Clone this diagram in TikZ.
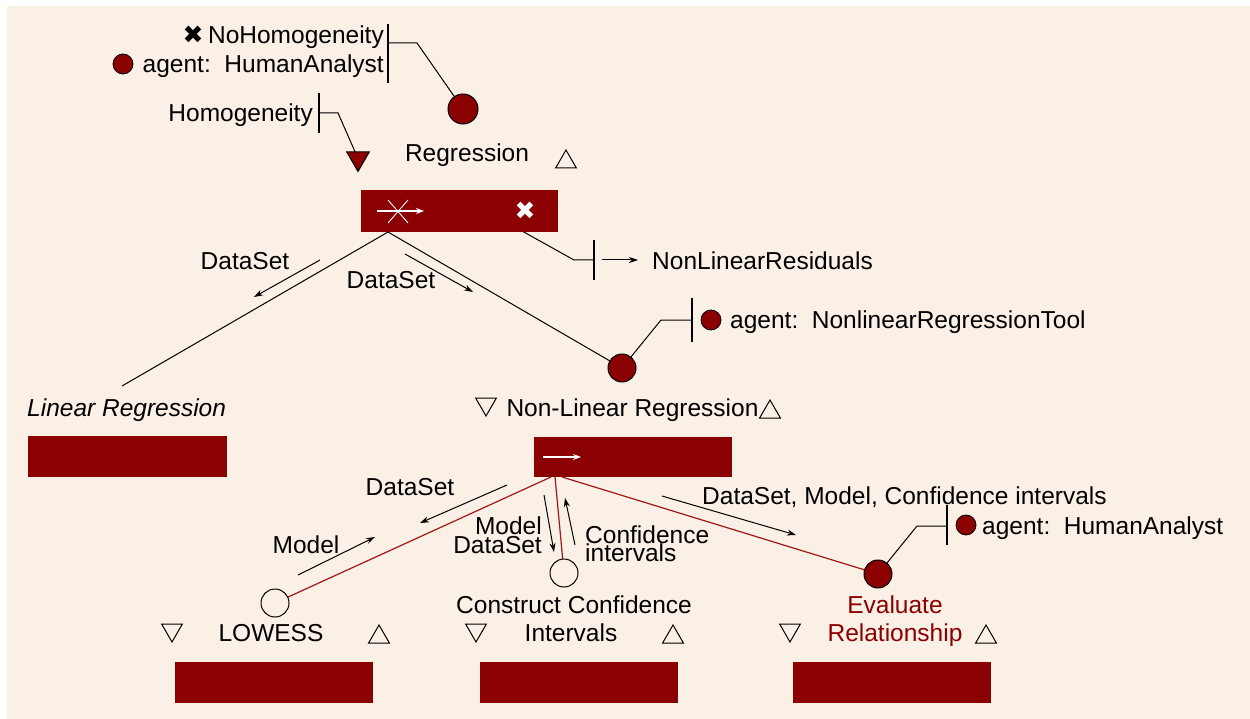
\documentclass[tikz,border=0pt]{standalone}
\usepackage{fontspec}
\setmainfont{Liberation Sans}
\newfontfamily\dejavu{DejaVu Sans}
\usetikzlibrary{arrows.meta,shapes.geometric}
\definecolor{dr}{HTML}{8B0000}
\definecolor{bgc}{HTML}{FAF0E6}
\definecolor{rl}{HTML}{A01818}
\pgfdeclarelayer{back}
\pgfsetlayers{back,main}
\begin{document}
\begin{tikzpicture}[x=1pt,y=-1pt,
  lbl/.style={inner sep=0pt, text height=17pt, text depth=0pt, font=\fontsize{24.5}{27}\selectfont},
  boxx/.style={fill=dr, draw=none, inner sep=0pt, minimum width=198pt, minimum height=41pt},
  bigdot/.style={circle, draw=black, fill=dr, minimum size=28pt, inner sep=0pt, line width=1pt},
  opendot/.style={circle, draw=black, fill=bgc, minimum size=28pt, inner sep=0pt, line width=1pt},
  smalldot/.style={circle, draw=black, fill=dr, minimum size=20pt, inner sep=0pt, line width=0.8pt},
  uptri/.style={regular polygon, regular polygon sides=3, draw=black, line width=1pt, minimum size=24pt, inner sep=0pt},
  downtri/.style={uptri, shape border rotate=180},
  conn/.style={line width=1pt, black},
  rconn/.style={line width=1.2pt, rl},
  flow/.style={line width=1pt, -{Stealth[length=9pt,width=6pt]}},
  barr/.style={line width=1.2pt},
  xmark/.style={font=\dejavu\fontsize{25}{25}\selectfont, inner sep=0pt},
]
\useasboundingbox (0,0) rectangle (1250,719);

% ---------- top: Regression ----------
\node[xmark] (nohx) at (193,35) {✖};
\node[lbl, anchor=east] (noh) at (384,35) {NoHomogeneity};
\node[smalldot] (hadot1) at (123,64) {};
\node[lbl, anchor=east] (ha1) at (384,64) {agent:\ \ HumanAnalyst};
\coordinate (b1t) at (388,24); \coordinate (b1b) at (388,83);
\coordinate (b1m) at (388,43); \coordinate (k1) at (417,43);
\node[bigdot, minimum size=30pt] (regc) at (463,109) {};

\node[lbl, anchor=east] (hom) at (313,113) {Homogeneity};
\coordinate (b2t) at (319,93); \coordinate (b2b) at (319,133);
\coordinate (b2m) at (319,113); \coordinate (k2) at (338,113);
\node[downtri, fill=dr, minimum size=26pt] (homtri) at (358,158.5) {};

\node[lbl] (reglbl) at (467,153) {Regression};
\node[uptri] (regup) at (566,162) {};
\node[boxx, minimum width=197pt, minimum height=42pt] (regbox) at (459.5,211) {};
\coordinate (ra1) at (377,211); \coordinate (ra2) at (424,211);
\coordinate (rx1) at (388,200); \coordinate (rx2) at (408,223);
\coordinate (rx3) at (388,223); \coordinate (rx4) at (408,200);
\draw[white, line width=1.3pt, -{Stealth[length=8pt,width=6pt]}] (ra1) -- (ra2);
\draw[white, line width=0.9pt] (rx1) -- (rx2) (rx3) -- (rx4);
\node[xmark, text=white] (regx) at (525,211) {✖};

\coordinate (r1) at (388,232);
\coordinate (linend) at (122,386);
\coordinate (r2) at (522,231);
\coordinate (k3) at (574,260);
\coordinate (b3t) at (594,240); \coordinate (b3b) at (594,280); \coordinate (b3m) at (594,260);
\coordinate (a3s) at (602,260); \coordinate (a3e) at (638,260);
\node[lbl, anchor=west] (nlres) at (652,261) {NonLinearResiduals};

\node[lbl] (ds1) at (245,261) {DataSet};
\coordinate (f1s) at (320,260); \coordinate (f1e) at (254,297);
\node[lbl] (ds2) at (391,280) {DataSet};
\coordinate (f2s) at (405,254); \coordinate (f2e) at (473,292);

\node[bigdot] (nlrc) at (622,368) {};
\coordinate (k4) at (661,320);
\coordinate (b4t) at (692,298); \coordinate (b4b) at (692,342); \coordinate (b4m) at (692,320);
\node[smalldot] (nrtdot) at (711,320) {};
\node[lbl, anchor=west] (nrt) at (730,320) {agent:\ \ NonlinearRegressionTool};

% ---------- Linear Regression ----------
\node[lbl, anchor=west, font=\fontsize{24.5}{27}\selectfont\itshape] (linlbl) at (27,408) {Linear Regression};
\node[boxx, minimum width=199pt] (linbox) at (127.5,456.5) {};

% ---------- Non-Linear Regression ----------
\node[downtri] (nlrdn) at (486,404) {};
\node[lbl] (nlrlbl) at (632.5,408) {Non-Linear Regression};
\node[uptri] (nlrup) at (770,412) {};
\node[boxx, minimum height=40pt] (nlrbox) at (633,457) {};
\coordinate (na1) at (543,457); \coordinate (na2) at (581,457);
\draw[white, line width=1.3pt, -{Stealth[length=8pt,width=6pt]}] (na1) -- (na2);
\coordinate (n1) at (551,477); \coordinate (n2) at (555,477); \coordinate (n3) at (562,477);

\node[lbl] (ds3) at (410,487) {DataSet};
\coordinate (f3s) at (507,485); \coordinate (f3e) at (420,523);
\node[lbl] (mod1) at (306,545) {Model};
\coordinate (f4s) at (298,575); \coordinate (f4e) at (375,537);
\node[lbl, anchor=east] (mod2) at (542,526) {Model};
\node[lbl, anchor=east] (ds4) at (542,545) {DataSet};
\coordinate (f5s) at (544,495); \coordinate (f5e) at (554,552);
\coordinate (f6s) at (575,545); \coordinate (f6e) at (565,498);
\node[lbl, anchor=west] (ci1) at (585,535) {Confidence};
\node[lbl, anchor=west] (ci2) at (585,553) {intervals};
\node[lbl, anchor=west] (dmc) at (702,496) {DataSet, Model, Confidence intervals};
\coordinate (f7s) at (662,496); \coordinate (f7e) at (796,535);

% ---------- LOWESS ----------
\node[opendot] (lowc) at (275,603) {};
\node[downtri] (lowdn) at (172,630) {};
\node[lbl] (lowlbl) at (271,633) {LOWESS};
\node[uptri] (lowup) at (379,637) {};
\node[boxx] (lowbox) at (274,682.5) {};

% ---------- Construct Confidence Intervals ----------
\node[opendot] (ccic) at (564,573) {};
\node[lbl] (cci1) at (574,605) {Construct Confidence};
\node[lbl] (cci2) at (571,633) {Intervals};
\node[downtri] (ccidn) at (476,630) {};
\node[uptri] (cciup) at (673,637) {};
\node[boxx] (ccibox) at (578.5,682.5) {};

% ---------- Evaluate Relationship ----------
\node[bigdot] (evc) at (878,574) {};
\coordinate (k5) at (917,526);
\coordinate (b5t) at (947,505); \coordinate (b5b) at (947,545); \coordinate (b5m) at (947,526);
\node[smalldot] (evdot) at (966,525) {};
\node[lbl, anchor=west] (evha) at (982,526) {agent:\ \ HumanAnalyst};
\node[lbl, text=dr] (ev1) at (895,605) {Evaluate};
\node[lbl, text=dr] (ev2) at (895,633) {Relationship};
\node[downtri] (evdn) at (790,630) {};
\node[uptri] (evup) at (986,637) {};
\node[boxx] (evbox) at (891.5,682.5) {};

% ---------- background and connectors ----------
\begin{pgfonlayer}{back}
\fill[white] (0,0) rectangle (1250,719);
\fill[bgc] (7,6) rectangle (1250,719);
\draw[conn] (b1m) -- (k1) -- (regc.center);
\draw[conn] (b2m) -- (k2) -- (homtri.center);
\draw[conn] (r1) -- (linend);
\draw[conn] (r1) -- (nlrc.center);
\draw[conn] (r2) -- (k3) -- (b3m);
\draw[conn] (nlrc.center) -- (k4) -- (b4m);
\draw[conn] (evc.center) -- (k5) -- (b5m);
\draw[rconn] (n1) -- (lowc.center);
\draw[rconn] (n2) -- (ccic.center);
\draw[rconn] (n3) -- (evc.center);
\end{pgfonlayer}
\draw[barr] (b1t) -- (b1b);
\draw[barr] (b2t) -- (b2b);
\draw[barr] (b3t) -- (b3b);
\draw[barr] (b4t) -- (b4b);
\draw[barr] (b5t) -- (b5b);
\draw[flow] (a3s) -- (a3e);
\draw[flow] (f1s) -- (f1e);
\draw[flow] (f2s) -- (f2e);
\draw[flow] (f3s) -- (f3e);
\draw[flow] (f4s) -- (f4e);
\draw[flow] (f5s) -- (f5e);
\draw[flow] (f6s) -- (f6e);
\draw[flow] (f7s) -- (f7e);
\end{tikzpicture}
\end{document}
